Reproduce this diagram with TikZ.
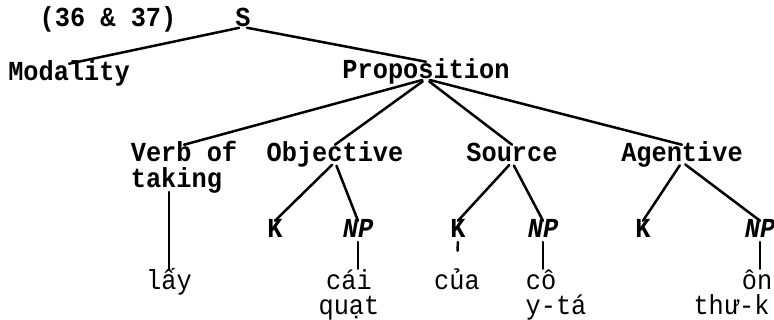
\documentclass[tikz,border=0pt]{standalone}
\usepackage{fontspec}
\setmonofont{Liberation Mono}[FakeStretch=0.92]
\usetikzlibrary{positioning}

\begin{document}
\begin{tikzpicture}[x=1pt, y=-1pt, on grid,
    line width=2.5pt, line cap=round,
    phrase/.style={font=\ttfamily\bfseries\fontsize{27.5}{30}\selectfont,
      inner sep=0pt, text height=16pt, text depth=0pt},
    word/.style={font=\ttfamily\fontsize{27.5}{30}\selectfont,
      inner sep=0pt, text height=20pt, text depth=7pt},
    branch/.style={shorten <=4pt}
    ]
    \fill[white] (0,0) rectangle (774,320);
    \useasboundingbox (0,0) rectangle (774,320);

    % top of the tree
    \node[phrase, anchor=base] (num) at (108,27) {(36 \& 37)};
    \node[phrase, anchor=base] (s) at (243,27) {S};
    \node[phrase, anchor=base] (mod) at (69,81) {Modality};
    \node[phrase, anchor=base] (prop) at (426,79) {Proposition};

    % cases
    \node[phrase, anchor=base] (vt) at (184,162) {Verb of};
    \node[phrase] (tk) [below left=26pt and 7.6pt of vt] {taking};
    \node[phrase, anchor=base] (obj) at (335,162) {Objective};
    \node[phrase, anchor=base] (src) at (512,162) {Source};
    \node[phrase, anchor=base] (agt) at (682,162) {Agentive};

    % K and NP
    \node[phrase] (k1) [below left=76pt and 60pt of obj] {K};
    \node[phrase] (np1) [below right=76pt and 23pt of obj] {\textit{NP}};
    \node[phrase] (k2) [below left=76pt and 54pt of src] {K};
    \node[phrase] (np2) [below right=76pt and 31pt of src] {\textit{NP}};
    \node[phrase] (k3) [below left=76pt and 39pt of agt] {K};
    \node[phrase] (np3) [below right=76pt and 78pt of agt] {\textit{NP}};

    % words
    \node[word, anchor=base] (lay) at (169,290) {lấy};
    \node[word, anchor=base] (cai) at (349,290) {cái};
    \node[word] (quat) [below=25pt of cai] {quạt};
    \node[word, anchor=base] (cua) at (457,290) {của};
    \node[word, anchor=base] (co) at (541,290) {cô};
    \node[word] (yta) [below right=25pt and 15pt of co] {y-tá};
    \node[word, anchor=base] (on) at (757,290) {ôn};
    \node[word] (thu) [below left=25pt and 25.5pt of on] {thư-k};

    % branches
    \draw[branch] (s.base) -- (mod.north);
    \draw[branch] (s.base) -- (prop.north);
    \foreach \c in {vt,obj,src,agt}
      \draw[branch] (prop.base) -- (\c.north);
    \draw[branch] (obj.base) -- (k1.north);
    \draw[branch] (obj.base) -- (np1.north);
    \draw[branch] (src.base) -- (k2.north);
    \draw[branch] (src.base) -- (np2.north);
    \draw[branch] (agt.base) -- (k3.north);
    \draw[branch] (agt.base) -- (np3.north);
    \draw[branch] (tk.base -| lay.base) -- (lay.north);
    \draw[branch] (np1.base) -- (np1.base |- cai.north);
    \draw[branch, shorten >=18pt] (k2.base) -- (cua.north);
    \draw[branch] (np2.base) -- (np2.base |- co.north);
    \draw[branch] (np3.base) -- (np3.base |- on.north);
\end{tikzpicture}
\end{document}
